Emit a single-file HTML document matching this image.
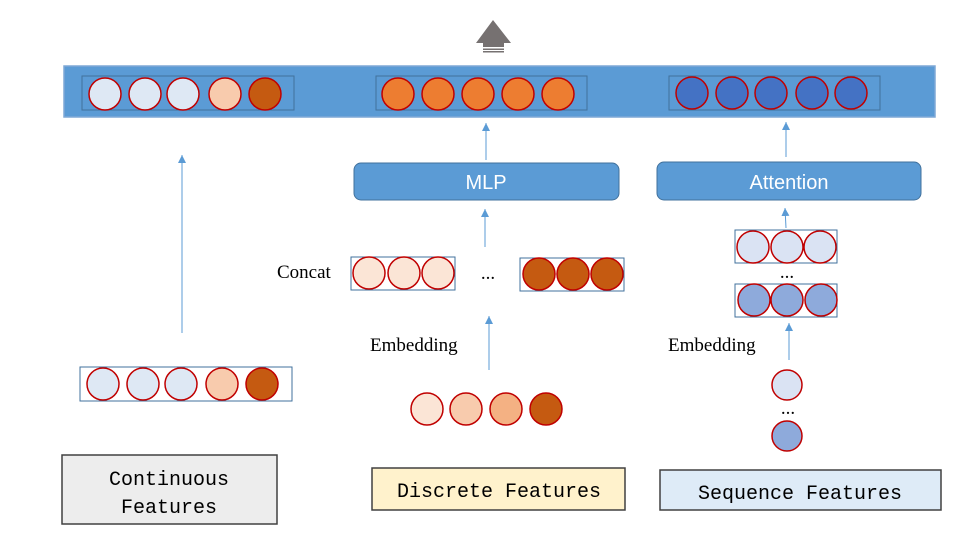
<!DOCTYPE html>
<html><head><meta charset="utf-8"><style>
html,body{margin:0;padding:0;background:#fff;}
svg{display:block;}
.c{stroke:#c00000;stroke-width:1.5;}
.t{font-family:"Liberation Serif",serif;font-size:19px;fill:#000;}
.m{font-family:"Liberation Mono",monospace;font-size:20px;fill:#000;}
.a{stroke:#5b9bd5;stroke-width:1;}
</style></head><body>
<svg width="963" height="545" viewBox="0 0 963 545" xmlns="http://www.w3.org/2000/svg">
<defs><marker id="ah" markerWidth="8" markerHeight="8" refX="8" refY="4" orient="auto" markerUnits="userSpaceOnUse"><path d="M0,0 L8,4 L0,8 z" fill="#5b9bd5"/></marker></defs>
<!-- top arrow -->
<path d="M493,20 L511,43 L504,43 L504,47 L483,47 L483,43 L476,43 z" fill="#767171"/>
<rect x="483" y="48.5" width="21" height="1.5" fill="#767171"/>
<rect x="483" y="51" width="21" height="1.5" fill="#767171"/>
<!-- top bar -->
<rect x="64" y="66" width="871" height="51" fill="#5b9bd5" stroke="#7fa8d6" stroke-width="1.5"/>
<rect x="82" y="76" width="212" height="34" fill="none" stroke="#41719c" stroke-width="1"/>
<g class="c"><circle cx="105" cy="94" r="16" fill="#dee8f4"/><circle cx="145" cy="94" r="16" fill="#dee8f4"/><circle cx="183" cy="94" r="16" fill="#dee8f4"/><circle cx="225" cy="94" r="16" fill="#f8cbad"/><circle cx="265" cy="94" r="16" fill="#c55a11"/></g>
<rect x="376" y="76" width="211" height="34" fill="none" stroke="#41719c" stroke-width="1"/>
<g class="c" fill="#ed7d31"><circle cx="398" cy="94" r="16"/><circle cx="438" cy="94" r="16"/><circle cx="478" cy="94" r="16"/><circle cx="518" cy="94" r="16"/><circle cx="558" cy="94" r="16"/></g>
<rect x="669" y="76" width="211" height="34" fill="none" stroke="#41719c" stroke-width="1"/>
<g class="c" fill="#4472c4"><circle cx="692" cy="93" r="16"/><circle cx="732" cy="93" r="16"/><circle cx="771" cy="93" r="16"/><circle cx="812" cy="93" r="16"/><circle cx="851" cy="93" r="16"/></g>
<!-- MLP / Attention -->
<rect x="354" y="163" width="265" height="37" rx="7" fill="#5b9bd5" stroke="#41719c" stroke-width="1"/>
<text x="486" y="189" text-anchor="middle" font-family="Liberation Sans,sans-serif" font-size="20" fill="#fff">MLP</text>
<rect x="657" y="162" width="264" height="38" rx="7" fill="#5b9bd5" stroke="#41719c" stroke-width="1"/>
<text x="789" y="189" text-anchor="middle" font-family="Liberation Sans,sans-serif" font-size="20" fill="#fff">Attention</text>
<!-- arrows -->
<line class="a" x1="182" y1="333" x2="182" y2="155" marker-end="url(#ah)"/>
<line class="a" x1="486" y1="160" x2="486" y2="123" marker-end="url(#ah)"/>
<line class="a" x1="485" y1="247" x2="485" y2="209" marker-end="url(#ah)"/>
<line class="a" x1="489" y1="370" x2="489" y2="316" marker-end="url(#ah)"/>
<line class="a" x1="786" y1="157" x2="786" y2="122" marker-end="url(#ah)"/>
<line class="a" x1="786" y1="228" x2="785" y2="208" marker-end="url(#ah)"/>
<line class="a" x1="789" y1="360" x2="789" y2="323" marker-end="url(#ah)"/>
<!-- concat -->
<text class="t" x="277" y="278">Concat</text>
<rect x="351" y="257" width="104" height="33" fill="none" stroke="#41719c"/>
<g class="c" fill="#fbe5d6"><circle cx="369" cy="273" r="16"/><circle cx="404" cy="273" r="16"/><circle cx="438" cy="273" r="16"/></g>
<text class="t" x="488" y="279" text-anchor="middle">...</text>
<rect x="520" y="258" width="104" height="33" fill="none" stroke="#41719c"/>
<g class="c" fill="#c55a11"><circle cx="539" cy="274" r="16"/><circle cx="573" cy="274" r="16"/><circle cx="607" cy="274" r="16"/></g>
<text class="t" x="370" y="351">Embedding</text>
<g class="c"><circle cx="427" cy="409" r="16" fill="#fbe5d6"/><circle cx="466" cy="409" r="16" fill="#f8cbad"/><circle cx="506" cy="409" r="16" fill="#f4b183"/><circle cx="546" cy="409" r="16" fill="#c55a11"/></g>
<!-- continuous -->
<rect x="80" y="367" width="212" height="34" fill="none" stroke="#41719c"/>
<g class="c"><circle cx="103" cy="384" r="16" fill="#dee8f4"/><circle cx="143" cy="384" r="16" fill="#dee8f4"/><circle cx="181" cy="384" r="16" fill="#dee8f4"/><circle cx="222" cy="384" r="16" fill="#f8cbad"/><circle cx="262" cy="384" r="16" fill="#c55a11"/></g>
<!-- sequence -->
<rect x="735" y="230" width="102" height="33" fill="none" stroke="#41719c"/>
<g class="c" fill="#dae3f3"><circle cx="753" cy="247" r="16"/><circle cx="787" cy="247" r="16"/><circle cx="820" cy="247" r="16"/></g>
<text class="t" x="787" y="278" text-anchor="middle">...</text>
<rect x="735" y="284" width="102" height="33" fill="none" stroke="#41719c"/>
<g class="c" fill="#8eaadb"><circle cx="754" cy="300" r="16"/><circle cx="787" cy="300" r="16"/><circle cx="821" cy="300" r="16"/></g>
<text class="t" x="668" y="351">Embedding</text>
<circle class="c" cx="787" cy="385" r="15" fill="#dae3f3"/>
<text class="t" x="788" y="414" text-anchor="middle">...</text>
<circle class="c" cx="787" cy="436" r="15" fill="#8eaadb"/>
<!-- bottom boxes -->
<rect x="62" y="455" width="215" height="69" fill="#ededed" stroke="#404040" stroke-width="1.5"/>
<text class="m" x="169" y="485" text-anchor="middle">Continuous</text>
<text class="m" x="169" y="513" text-anchor="middle">Features</text>
<rect x="372" y="468" width="253" height="42" fill="#fff2cc" stroke="#404040" stroke-width="1.5"/>
<text class="m" x="499" y="497" text-anchor="middle">Discrete Features</text>
<rect x="660" y="470" width="281" height="40" fill="#deebf7" stroke="#404040" stroke-width="1.5"/>
<text class="m" x="800" y="499" text-anchor="middle">Sequence Features</text>
</svg>
</body></html>
